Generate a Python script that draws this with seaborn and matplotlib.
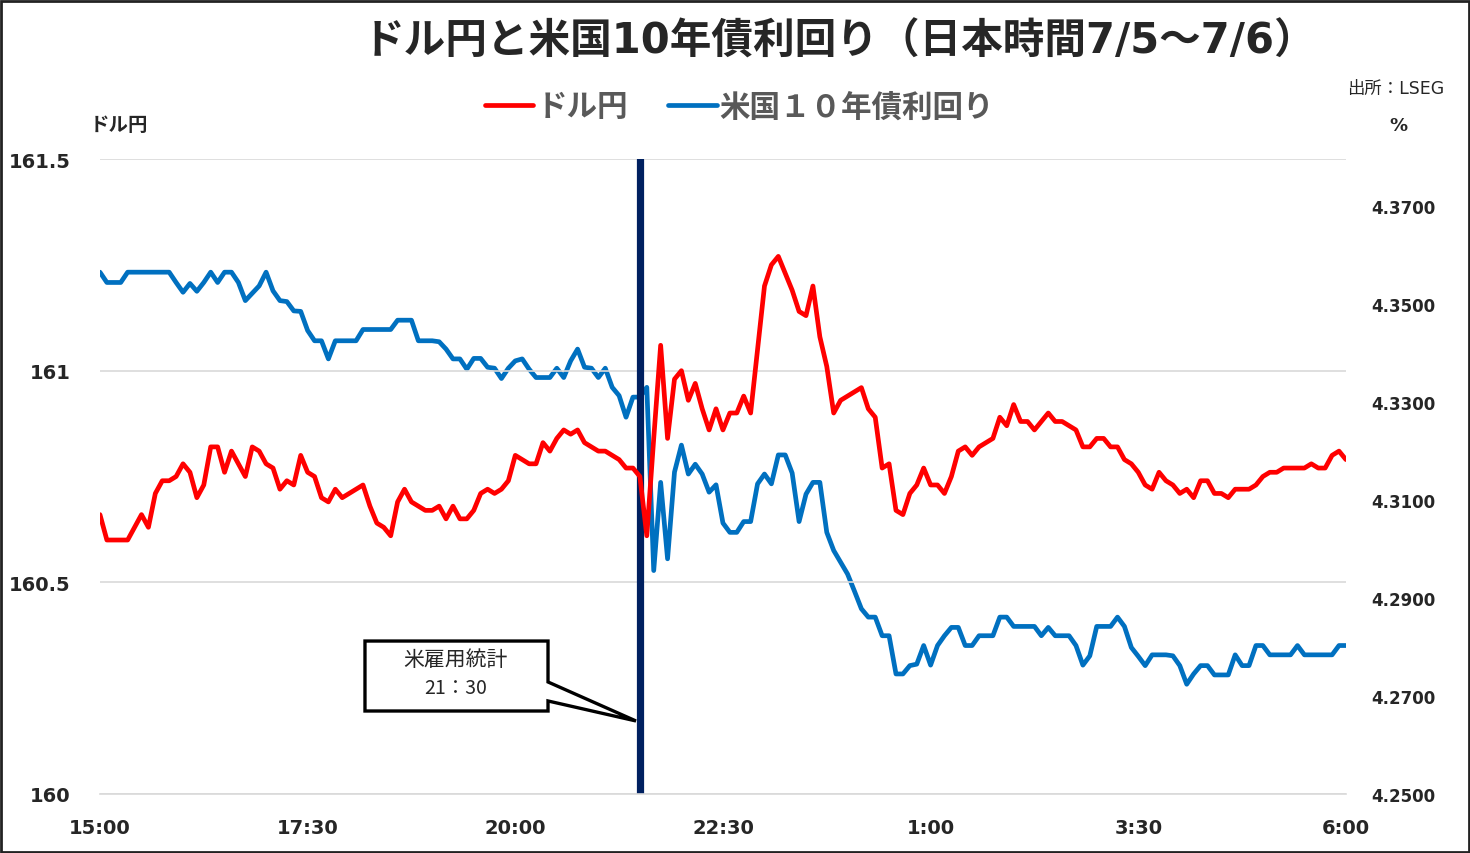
import numpy as np
import pandas as pd
import matplotlib
matplotlib.use("Agg")
import matplotlib.pyplot as plt
import matplotlib.dates as mdates
from matplotlib.patches import Polygon, Rectangle
from matplotlib.ticker import FuncFormatter
import seaborn as sns

# 5-minute data, 15:00 (7/5) to 6:00 (7/6), Japan time
times = pd.date_range("2024-07-05 15:00", "2024-07-06 06:00", freq="5min")

usdjpy = [
    160.66, 160.60, 160.60, 160.60, 160.60, 160.63, 160.66, 160.63, 160.71, 160.74,
    160.74, 160.75, 160.78, 160.76, 160.70, 160.73, 160.82, 160.82, 160.76, 160.81,
    160.78, 160.75, 160.82, 160.81, 160.78, 160.77, 160.72, 160.74, 160.73, 160.80,
    160.76, 160.75, 160.70, 160.69, 160.72, 160.70, 160.71, 160.72, 160.73, 160.68,
    160.64, 160.63, 160.61, 160.69, 160.72, 160.69, 160.68, 160.67, 160.67, 160.68,
    160.65, 160.68, 160.65, 160.65, 160.67, 160.71, 160.72, 160.71, 160.72, 160.74,
    160.80, 160.79, 160.78, 160.78, 160.83, 160.81, 160.84, 160.86, 160.85, 160.86,
    160.83, 160.82, 160.81, 160.81, 160.80, 160.79, 160.77, 160.77, 160.75, 160.61,
    160.84, 161.06, 160.84, 160.98, 161.00, 160.93, 160.97, 160.91, 160.86, 160.91,
    160.86, 160.90, 160.90, 160.94, 160.90, 161.05, 161.20, 161.25, 161.27, 161.23,
    161.19, 161.14, 161.13, 161.20, 161.08, 161.01, 160.90, 160.93, 160.94, 160.95,
    160.96, 160.91, 160.89, 160.77, 160.78, 160.67, 160.66, 160.71, 160.73, 160.77,
    160.73, 160.73, 160.71, 160.75, 160.81, 160.82, 160.80, 160.82, 160.83, 160.84,
    160.89, 160.87, 160.92, 160.88, 160.88, 160.86, 160.88, 160.90, 160.88, 160.88,
    160.87, 160.86, 160.82, 160.82, 160.84, 160.84, 160.82, 160.82, 160.79, 160.78,
    160.76, 160.73, 160.72, 160.76, 160.74, 160.73, 160.71, 160.72, 160.70, 160.74,
    160.74, 160.71, 160.71, 160.70, 160.72, 160.72, 160.72, 160.73, 160.75, 160.76,
    160.76, 160.77, 160.77, 160.77, 160.77, 160.78, 160.77, 160.77, 160.80, 160.81,
    160.79,
]

us10y = [
    4.3565, 4.3544, 4.3544, 4.3544, 4.3565, 4.3565, 4.3565, 4.3565, 4.3565, 4.3565,
    4.3565, 4.3544, 4.3524, 4.3542, 4.3526, 4.3544, 4.3565, 4.3544, 4.3565, 4.3565,
    4.3544, 4.3507, 4.3522, 4.3537, 4.3565, 4.3527, 4.3507, 4.3505, 4.3486, 4.3485,
    4.3446, 4.3425, 4.3425, 4.3388, 4.3425, 4.3425, 4.3425, 4.3425, 4.3448, 4.3448,
    4.3448, 4.3448, 4.3448, 4.3467, 4.3467, 4.3467, 4.3425, 4.3425, 4.3425, 4.3423,
    4.3408, 4.3388, 4.3388, 4.3367, 4.3389, 4.3389, 4.3371, 4.3369, 4.3348, 4.3369,
    4.3384, 4.3388, 4.3367, 4.3350, 4.3350, 4.3350, 4.3369, 4.3350, 4.3384, 4.3408,
    4.3371, 4.3369, 4.3350, 4.3369, 4.3330, 4.3313, 4.3269, 4.3310, 4.3310, 4.3330,
    4.2956, 4.3136, 4.2980, 4.3157, 4.3212, 4.3153, 4.3173, 4.3153, 4.3116, 4.3131,
    4.3053, 4.3034, 4.3034, 4.3056, 4.3056, 4.3133, 4.3153, 4.3133, 4.3192, 4.3192,
    4.3155, 4.3056, 4.3112, 4.3136, 4.3136, 4.3034, 4.2997, 4.2973, 4.2949, 4.2914,
    4.2878, 4.2861, 4.2861, 4.2823, 4.2823, 4.2745, 4.2745, 4.2762, 4.2765, 4.2803,
    4.2763, 4.2803, 4.2823, 4.2840, 4.2840, 4.2803, 4.2803, 4.2823, 4.2823, 4.2823,
    4.2861, 4.2861, 4.2842, 4.2842, 4.2842, 4.2842, 4.2823, 4.2840, 4.2823, 4.2823,
    4.2823, 4.2803, 4.2763, 4.2782, 4.2842, 4.2842, 4.2842, 4.2861, 4.2842, 4.2799,
    4.2781, 4.2762, 4.2784, 4.2784, 4.2784, 4.2782, 4.2762, 4.2724, 4.2745, 4.2762,
    4.2762, 4.2743, 4.2743, 4.2743, 4.2784, 4.2762, 4.2762, 4.2803, 4.2803, 4.2784,
    4.2784, 4.2784, 4.2784, 4.2803, 4.2784, 4.2784, 4.2784, 4.2784, 4.2784, 4.2803,
    4.2803,
]

left_ticks = [160, 160.5, 161, 161.5]
right_ticks = [4.25, 4.27, 4.29, 4.31, 4.33, 4.35, 4.37]
x_ticks = pd.date_range("2024-07-05 15:00", "2024-07-06 06:00", freq="150min")
event_time = pd.Timestamp("2024-07-05 21:30")

df = pd.DataFrame({"time": times, "usdjpy": usdjpy, "us10y": us10y})

sns.set_theme(style="white")
plt.rcParams["font.family"] = ["DejaVu Sans", "Noto Sans CJK JP"]
plt.rcParams["font.weight"] = "bold"

fig = plt.figure(figsize=(14.7, 8.54), dpi=100)
ax = fig.add_axes([0.068, 0.0691, 0.8476, 0.7435])
ax2 = ax.twinx()

sns.lineplot(data=df, x="time", y="usdjpy", ax=ax, color="#FF0000", linewidth=3.4,
             label="ドル円", zorder=5)
sns.lineplot(data=df, x="time", y="us10y", ax=ax2, color="#0070C0", linewidth=3.4,
             label="米国１０年債利回り", zorder=5)

h1, l1 = ax.get_legend_handles_labels()
h2, l2 = ax2.get_legend_handles_labels()
ax.get_legend().remove()
ax2.get_legend().remove()

# event line
ax.axvline(event_time, color="#002060", linewidth=5.2, zorder=1)
ax.set_zorder(ax2.get_zorder() + 1)
ax.patch.set_visible(False)

ax.set_xlim(times[0], times[-1])
ax.set_ylim(160, 161.5)
ax2.set_ylim(4.25, 4.25 + 635 / 4900)

ax.set_yticks(left_ticks)
ax.yaxis.set_major_formatter(FuncFormatter(lambda v, p: f"{v:g}"))
ax2.set_yticks(right_ticks)
ax2.yaxis.set_major_formatter(FuncFormatter(lambda v, p: f"{v:.4f}"))
ax.set_xticks(x_ticks)
ax.xaxis.set_major_formatter(mdates.DateFormatter("%-H:%M"))

ax.grid(axis="y", color="#D9D9D9", linewidth=1.2)
ax.grid(axis="x", visible=False)
ax2.grid(False)
for a in (ax, ax2):
    for s in a.spines.values():
        s.set_visible(False)
ax.spines["bottom"].set_visible(True)
ax.spines["bottom"].set_color("#D9D9D9")
ax.spines["bottom"].set_linewidth(1.2)

ax.tick_params(axis="y", length=0, pad=21, labelsize=14)
ax.tick_params(axis="x", length=0, pad=17, labelsize=14)
ax2.tick_params(axis="y", length=0, pad=18, labelsize=12)
ax.set_xlabel("")
ax.set_ylabel("")
ax2.set_ylabel("")

# callout for US jobs report
callout = [(0.2127, 0.2409), (0.3596, 0.2409), (0.3596, 0.1764), (0.4302, 0.115),
           (0.3596, 0.1465), (0.3596, 0.1307), (0.2127, 0.1307)]
ax.add_patch(Polygon(callout, closed=True, transform=ax.transAxes, facecolor="white",
                     edgecolor="black", linewidth=2.4, zorder=6))
ax.text(0.2857, 0.2125, "米雇用統計", transform=ax.transAxes, ha="center", va="center",
        fontsize=15, fontweight="normal", family=["Noto Sans CJK JP"], zorder=7)
ax.text(0.2857, 0.168, "21：30", transform=ax.transAxes, ha="center", va="center",
        fontsize=14, fontweight="normal", family=["Noto Sans CJK JP"], zorder=7)

fig.text(0.571, 0.951, "ドル円と米国10年債利回り（日本時間7/5～7/6）", ha="center", va="center",
         fontsize=30, fontweight="bold")
fig.legend(h1 + h2, l1 + l2, loc="center", bbox_to_anchor=(0.503, 0.874), ncol=2,
           frameon=False, fontsize=22, handlelength=1.6, handletextpad=0.1,
           columnspacing=1.3, labelcolor="#595959")
fig.text(0.9825, 0.896, "出所：LSEG", ha="right", va="center", fontsize=12.5, fontweight="normal")
fig.text(0.081, 0.853, "ドル円", ha="center", va="center", fontsize=14)
fig.text(0.951, 0.853, "%", ha="center", va="center", fontsize=13)

fig.patches.append(Rectangle((0.001, 0.001), 0.998, 0.997, transform=fig.transFigure,
                             fill=False, edgecolor="#222222", linewidth=2))

fig.savefig("out.png", dpi=100)
